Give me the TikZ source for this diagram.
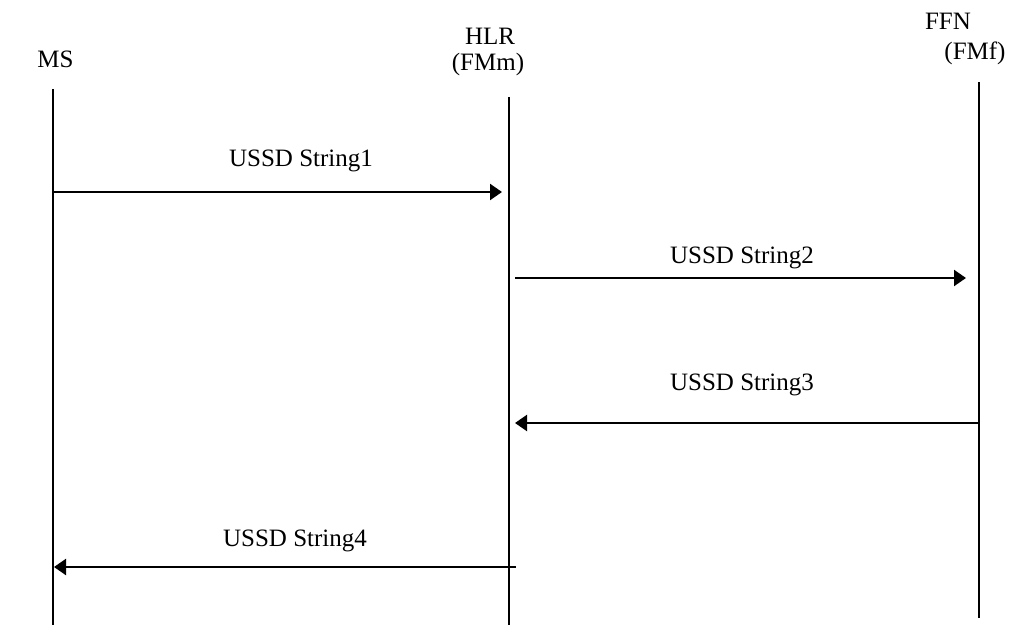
\documentclass[tikz,border=0pt]{standalone}
\usepackage{fontspec}
\setmainfont{Liberation Serif}
\usetikzlibrary{arrows.meta}
\begin{document}
\begin{tikzpicture}[x=1pt,y=-1pt,
  lifeline/.style={line width=2.2pt},
  msg/.style={line width=2.2pt,-{Triangle[length=12pt,width=16pt]}},
  lbl/.style={anchor=base,inner sep=0pt,font=\fontsize{25}{28}\selectfont}]
\useasboundingbox (0,0) rectangle (1013,626);
% lifelines
\coordinate (msT) at (53,89);  \coordinate (msB) at (53,625);
\coordinate (hlrT) at (509,97); \coordinate (hlrB) at (509,625);
\coordinate (ffnT) at (979,82); \coordinate (ffnB) at (979,618);
\draw[lifeline] (msT) -- (msB);
\draw[lifeline] (hlrT) -- (hlrB);
\draw[lifeline] (ffnT) -- (ffnB);
% headers
\node[lbl] (ms) at (55.5,67) {MS};
\node[lbl] (hlr) at (490,45) {HLR};
\node[lbl] (fmm) at (488,71) {(FMm)};
\node[lbl] (ffn) at (948,30) {FFN};
\node[lbl] (fmf) at (975,60) {(FMf)};
% message endpoints
\coordinate (m1s) at (53,192);  \coordinate (m1e) at (502,192);
\coordinate (m2s) at (515,278); \coordinate (m2e) at (966,278);
\coordinate (m3s) at (979,423); \coordinate (m3e) at (515,423);
\coordinate (m4s) at (516,567); \coordinate (m4e) at (54,567);
\draw[msg] (m1s) -- (m1e);
\draw[msg] (m2s) -- (m2e);
\draw[msg] (m3s) -- (m3e);
\draw[msg] (m4s) -- (m4e);
% labels
\node[lbl] (l1) at (301,166.5) {USSD String1};
\node[lbl] (l2) at (742,263) {USSD String2};
\node[lbl] (l3) at (742,390) {USSD String3};
\node[lbl] (l4) at (295,546) {USSD String4};
\end{tikzpicture}
\end{document}
